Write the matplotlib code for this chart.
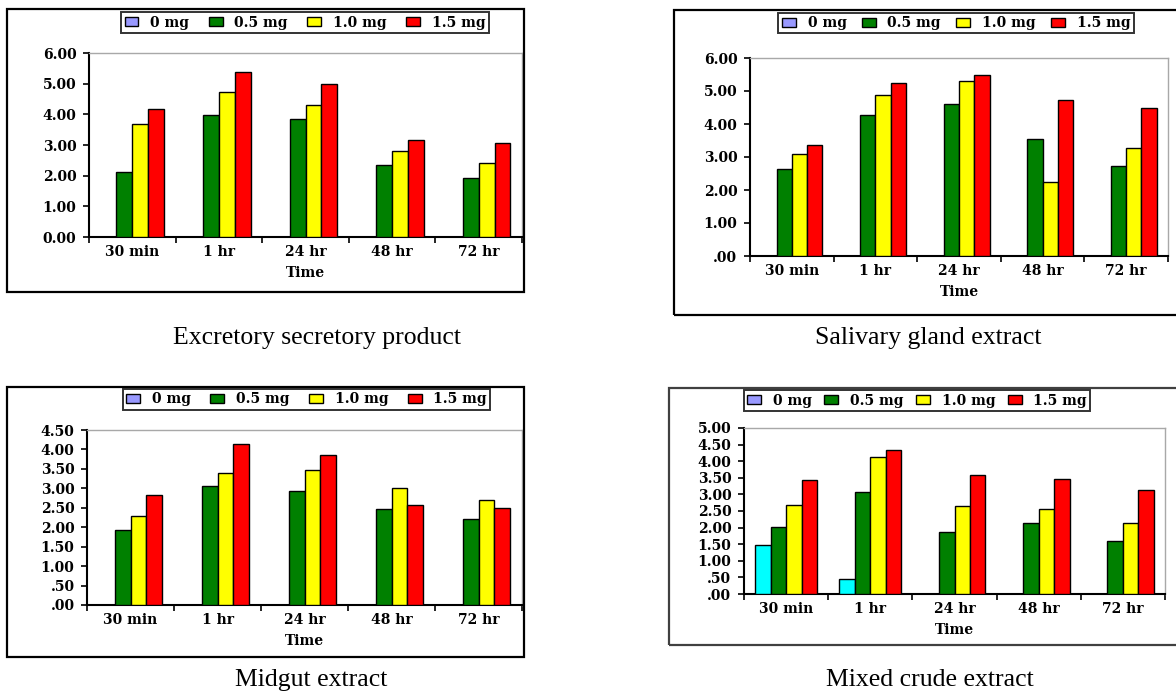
import matplotlib.pyplot as plt
from matplotlib.patches import Rectangle, Patch
import numpy as np

# time points and doses
cats = ['30 min', '1 hr', '24 hr', '48 hr', '72 hr']
doses = ['0 mg', '0.5 mg', '1.0 mg', '1.5 mg']

# Excretory secretory product
es_0 = [0, 0, 0, 0, 0]
es_05 = [2.12, 3.98, 3.85, 2.34, 1.92]
es_10 = [3.67, 4.73, 4.31, 2.81, 2.41]
es_15 = [4.18, 5.38, 5.00, 3.15, 3.05]

# Salivary gland extract
sg_0 = [0, 0, 0, 0, 0]
sg_05 = [2.65, 4.28, 4.60, 3.54, 2.72]
sg_10 = [3.09, 4.87, 5.29, 2.23, 3.26]
sg_15 = [3.36, 5.25, 5.48, 4.74, 4.49]

# Midgut extract
mg_0 = [0, 0, 0, 0, 0]
mg_05 = [1.92, 3.06, 2.93, 2.47, 2.22]
mg_10 = [2.28, 3.39, 3.46, 3.01, 2.70]
mg_15 = [2.83, 4.14, 3.85, 2.57, 2.50]

# Mixed crude extract
mc_0 = [1.49, 0.45, 0, 0, 0]
mc_05 = [2.02, 3.08, 1.86, 2.15, 1.61]
mc_10 = [2.68, 4.13, 2.65, 2.57, 2.15]
mc_15 = [3.43, 4.35, 3.59, 3.46, 3.13]

W, H = 1176, 693
fig = plt.figure(figsize=(W / 100, H / 100), dpi=100)
fig.patch.set_facecolor('white')

serif = 'DejaVu Serif'
colors = ['#9999ff', '#008000', '#ffff00', '#ff0000']
fs = 10


def box(x0, y0, x1, y1):
    return [x0 / W, 1 - y1 / H, (x1 - x0) / W, (y1 - y0) / H]


def short(v):
    s = '%.2f' % v
    return s[1:] if s.startswith('0') else s


def panel(rect, frame, leg, series, ymax, step, fmt, caption, cap_xy,
          zero_color, frame_color='black', legsp=1.4):
    # outer frame of the chart object
    x0, y0, x1, y1 = frame
    fig.patches.append(Rectangle((x0 / W, 1 - y1 / H), (x1 - x0) / W,
                                 (y1 - y0) / H, transform=fig.transFigure,
                                 fill=False, lw=1.6, ec=frame_color))
    ax = fig.add_axes(box(*rect))
    w = 0.183
    x = np.arange(len(cats))
    cols = [zero_color] + colors[1:]
    for k, vals in enumerate(series):
        ax.bar(x + (k - 1.5) * w, vals, w, color=cols[k], edgecolor='black',
               linewidth=1.0, zorder=3)
    ax.set_xlim(-0.5, len(cats) - 0.5)
    ax.set_ylim(0, ymax)
    yt = np.arange(0, ymax + step / 2, step)
    ax.set_yticks(yt)
    ax.set_yticklabels([fmt(v) for v in yt], fontfamily=serif,
                       fontweight='bold', fontsize=fs)
    ax.set_xticks(np.arange(-0.5, len(cats), 1.0))
    ax.set_xticklabels([])
    ax.set_xticks(x, minor=True)
    ax.set_xticklabels(cats, minor=True, fontfamily=serif, fontweight='bold',
                       fontsize=fs)
    ax.tick_params(axis='x', which='minor', length=0, pad=6)
    ax.tick_params(axis='x', which='major', length=4, width=1.2, direction='out')
    ax.tick_params(axis='y', length=4, width=1.2, direction='out', pad=5)
    ax.set_xlabel('Time', fontfamily=serif, fontweight='bold', fontsize=fs,
                  labelpad=5)
    for s in ['left', 'bottom']:
        ax.spines[s].set_linewidth(1.5)
    for s in ['top', 'right']:
        ax.spines[s].set_color('#a8a8a8')
        ax.spines[s].set_linewidth(1.0)

    handles = [Patch(facecolor=colors[k], edgecolor='black', lw=1.0)
               for k in range(4)]
    lx0, ly0, lx1, ly1 = leg
    lg = ax.legend(handles, doses, ncol=4, loc='center',
                   bbox_to_anchor=((lx0 + lx1) / 2 / W, 1 - (ly0 + ly1) / 2 / H),
                   bbox_transform=fig.transFigure, frameon=True, fancybox=False,
                   edgecolor='black', handlelength=1.0, handleheight=0.6,
                   handletextpad=0.85, columnspacing=legsp, borderpad=0.25,
                   prop={'family': serif, 'weight': 'bold', 'size': fs})
    lg.get_frame().set_linewidth(1.4)

    fig.text(cap_xy[0] / W, 1 - cap_xy[1] / H, caption, ha='center',
             va='center', fontfamily='Liberation Serif', fontsize=18.5)
    return ax


panel((89, 53, 522, 237), (7, 9, 524, 292), (117, 13, 493, 32),
      [es_0, es_05, es_10, es_15], 6.0, 1.0, lambda v: '%.2f' % v,
      'Excretory secretory product', (317, 338), colors[0])

panel((750, 58, 1168, 256), (674, 10, 1185, 315), (782, 13, 1130, 33),
      [sg_0, sg_05, sg_10, sg_15], 6.0, 1.0, short,
      'Salivary gland extract', (928, 338), colors[0], legsp=1.1)

panel((87, 430, 522, 605), (7, 387, 524, 657), (121, 391, 492, 408),
      [mg_0, mg_05, mg_10, mg_15], 4.5, 0.5, short,
      'Midgut extract', (311, 680), colors[0])

panel((744, 428, 1165, 594), (669, 388, 1185, 645), (742, 392, 1092, 409),
      [mc_0, mc_05, mc_10, mc_15], 5.0, 0.5, short,
      'Mixed crude extract', (930, 680), '#00ffff', frame_color='#404040',
      legsp=0.9)

fig.savefig('out.png', dpi=100, facecolor='white')
